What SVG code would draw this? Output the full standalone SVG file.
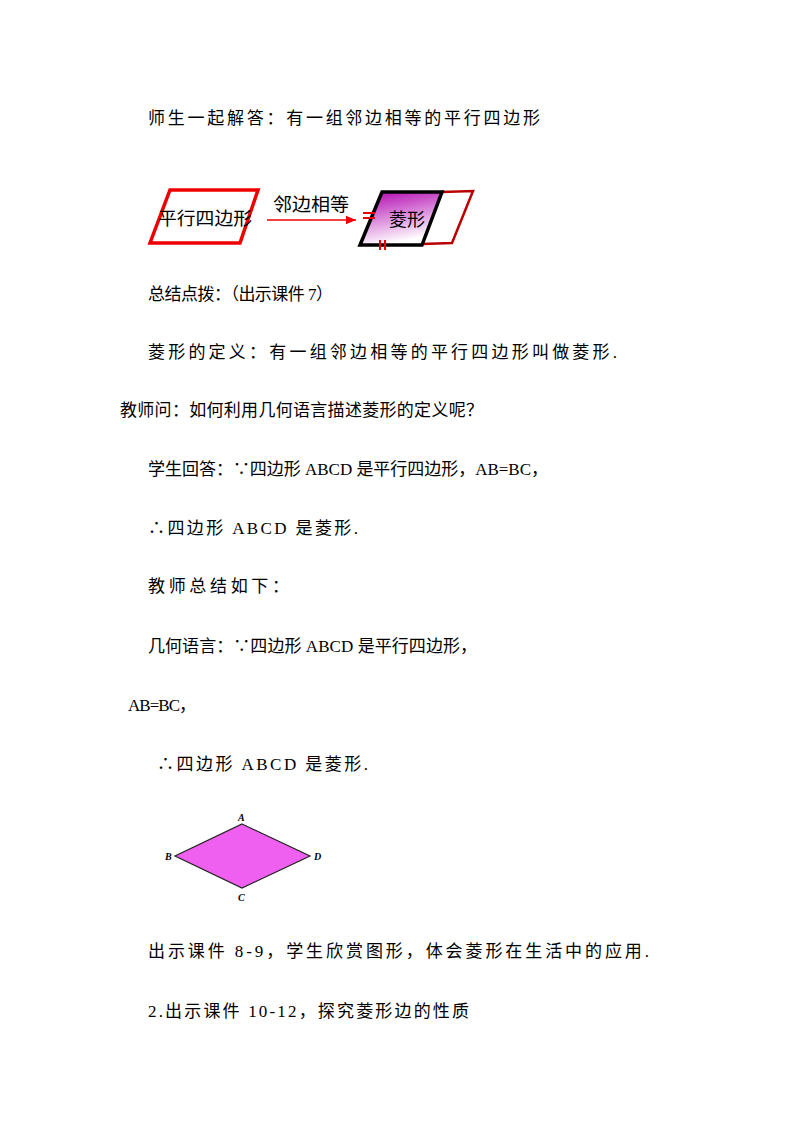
<svg xmlns="http://www.w3.org/2000/svg" width="800" height="1132" viewBox="0 0 800 1132">
<style>
text{font-family:"Liberation Serif","Noto Sans CJK SC",serif;font-size:17px;fill:#000}
.lbl{font-style:italic;font-weight:bold;font-size:10px}
</style>
<defs>
<linearGradient id="g" x1="0" y1="0" x2="0.3" y2="1">
<stop offset="0" stop-color="#b000b0"/><stop offset="1" stop-color="#ffffff"/>
</linearGradient>
<marker id="ar" markerWidth="8" markerHeight="8" refX="7" refY="4" orient="auto"><path d="M0,1 L7,4 L0,7 Z" fill="#e00"/></marker>
</defs>
<rect width="800" height="1132" fill="#fff"/>
<text x="148" y="124" textLength="392" lengthAdjust="spacing">师生一起解答：有一组邻边相等的平行四边形</text>
<g id="n1">
<polygon points="170,190 258,190 240,243 150,243" fill="none" stroke="#e00" stroke-width="3.5"/>
<text x="158" y="225" style="font-size:18px" textLength="94" lengthAdjust="spacingAndGlyphs">平行四边形</text>
</g>
<g id="edges">
<line x1="267" y1="220" x2="356" y2="220" stroke="#e00" stroke-width="1.5" marker-end="url(#ar)"/>
<text x="273" y="211" style="font-size:18px" textLength="76" lengthAdjust="spacingAndGlyphs">邻边相等</text>
</g>
<g id="n2">
<polyline points="442,192 473,191 452,243 422,244" fill="none" stroke="#b00" stroke-width="2.5"/>
<polygon points="382,192 442,192 422,245 360,245" fill="url(#g)" stroke="#000" stroke-width="3.5"/>
<line x1="363" y1="213" x2="375" y2="213" stroke="#e00" stroke-width="2"/>
<line x1="363" y1="218" x2="375" y2="218" stroke="#e00" stroke-width="2"/>
<line x1="380" y1="240" x2="380" y2="250" stroke="#e00" stroke-width="2"/>
<line x1="385" y1="240" x2="385" y2="250" stroke="#e00" stroke-width="2"/>
<text x="389" y="226" style="font-size:18px">菱形</text>
</g>
<text x="148" y="300" textLength="185" lengthAdjust="spacing">总结点拨：（出示课件 7）</text>
<text x="148" y="358" textLength="469" lengthAdjust="spacing">菱形的定义：有一组邻边相等的平行四边形叫做菱形.</text>
<text x="120" y="416" textLength="363" lengthAdjust="spacing">教师问：如何利用几何语言描述菱形的定义呢？</text>
<text x="148" y="475" textLength="400" lengthAdjust="spacing">学生回答：∵四边形 ABCD 是平行四边形，AB=BC，</text>
<text x="148" y="534" textLength="210" lengthAdjust="spacing">∴四边形 ABCD 是菱形.</text>
<text x="148" y="592" textLength="141" lengthAdjust="spacing">教师总结如下：</text>
<text x="148" y="652" textLength="329" lengthAdjust="spacing">几何语言：∵四边形 ABCD 是平行四边形，</text>
<text x="128" y="711" textLength="68" lengthAdjust="spacing">AB=BC，</text>
<text x="157" y="770" textLength="211" lengthAdjust="spacing">∴四边形 ABCD 是菱形.</text>
<g id="rhombus">
<polygon points="242,824 310,856 242,888 175,856" fill="#f060f0" stroke="#222" stroke-width="1.2"/>
<text class="lbl" x="238" y="821">A</text>
<text class="lbl" x="165" y="860">B</text>
<text class="lbl" x="314" y="860">D</text>
<text class="lbl" x="238" y="901">C</text>
</g>
<text x="148" y="957" textLength="501" lengthAdjust="spacing">出示课件 8-9，学生欣赏图形，体会菱形在生活中的应用.</text>
<text x="148" y="1017" textLength="321" lengthAdjust="spacing">2.出示课件 10-12，探究菱形边的性质</text>
</svg>
